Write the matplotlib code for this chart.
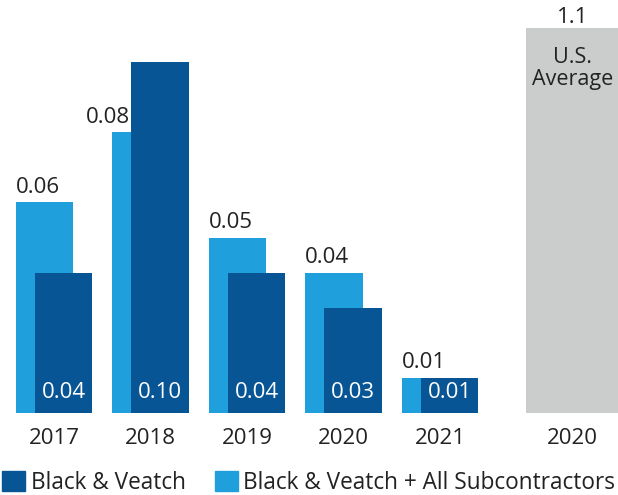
import matplotlib.pyplot as plt
import numpy as np
from matplotlib.patches import Patch

plt.rcParams['font.family'] = ['Open Sans', 'DejaVu Sans']

years = ["2017", "2018", "2019", "2020", "2021"]
bv_sub = [0.06, 0.08, 0.05, 0.04, 0.01]    # Black & Veatch + All Subcontractors
bv = [0.04, 0.10, 0.04, 0.03, 0.01]        # Black & Veatch
us_label = "2020"
us_avg = 1.1

light = "#1fa0dc"
dark = "#085596"
grey = "#cbcccc"
txt = "#222222"

fig = plt.figure(figsize=(6.18, 4.95), dpi=100)
ax = fig.add_axes([0, 0.166, 1, 0.777])

x = np.arange(len(years))
w = 0.595
ax.bar(x - 0.1, bv_sub, w, color=light, zorder=2)
ax.bar(x + 0.1, bv, w, color=dark, zorder=3)

x_us = 5.37
ax.bar(x_us, us_avg, 0.95, color=grey, zorder=2)

ax.set_ylim(0, 0.1097)
ax.set_xlim(-0.56, 5.845)

# labels above the light bars
for i, v in enumerate(bv_sub):
    if bv[i] > v:
        ax.text(x[i] + 0.1 - w / 2 - 0.02, v + 0.0013, f"{v:.2f}", ha="right", va="bottom",
                fontsize=16, color=txt)
    else:
        ax.text(x[i] - 0.1 - w / 2, v + 0.0013, f"{v:.2f}", ha="left", va="bottom",
                fontsize=16, color=txt)

# labels inside the dark bars
for i, v in enumerate(bv):
    ax.text(x[i] + 0.1, 0.0028, f"{v:.2f}", ha="center", va="bottom",
            fontsize=16, color="white", zorder=4)

ax.text(x_us, 1.0, f"{us_avg:.1f}", transform=ax.get_xaxis_transform(),
        ha="center", va="bottom", fontsize=16, color=txt, clip_on=False)
ax.text(x_us, 0.95, "U.S.\nAverage", transform=ax.get_xaxis_transform(),
        ha="center", va="top", fontsize=15.5, color=txt, linespacing=1.05)

ax.set_xticks(list(x) + [x_us])
ax.set_xticklabels(years + [us_label], fontsize=16, color=txt)
ax.tick_params(axis="x", length=0, pad=11)
ax.set_yticks([])
for s in ax.spines.values():
    s.set_visible(False)

# legend
handles = [Patch(color=dark, label="Black & Veatch"),
           Patch(color=light, label="Black & Veatch + All Subcontractors")]
fig.legend(handles=handles, loc="lower left", bbox_to_anchor=(-0.022, -0.032), ncol=2,
           frameon=False, fontsize=16.3, handlelength=1.0, handleheight=1.0,
           handletextpad=0.25, columnspacing=1.3, labelcolor=txt, borderpad=0.2)

fig.savefig("out.png", dpi=100)
